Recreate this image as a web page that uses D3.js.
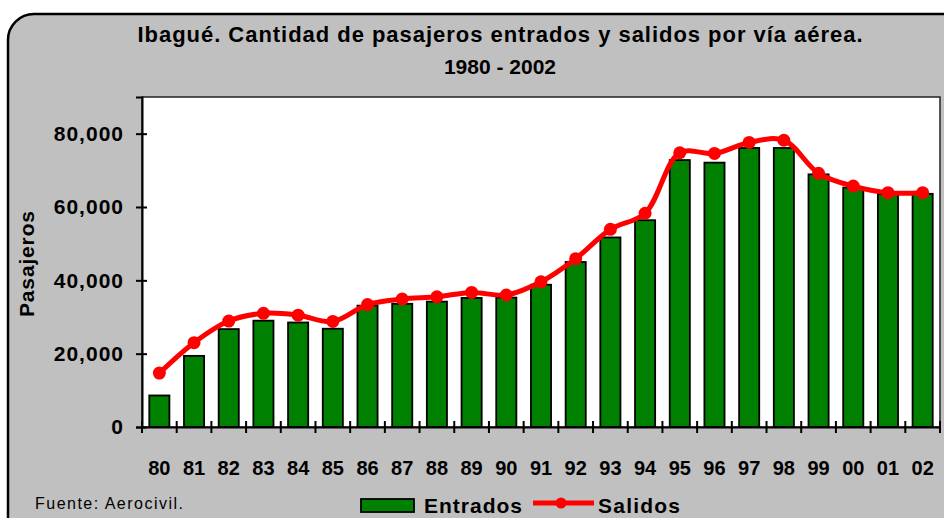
<!DOCTYPE html>
<html>
<head>
<meta charset="utf-8">
<script src="https://cdn.jsdelivr.net/npm/d3@7"></script>
<style>
  body { margin: 0; background: #fff; }
  svg { display: block; font-family: "Liberation Sans", Arial, sans-serif; }
</style>
</head>
<body>
<svg id="chart" width="944" height="518"></svg>
<script>
// data
var years = ["80","81","82","83","84","85","86","87","88","89","90","91","92","93","94","95","96","97","98","99","00","01","02"];
var entrados = [8600,19400,26700,29000,28500,26800,33100,33600,34200,35200,35300,38800,45000,51700,56400,72800,72100,76100,76100,68900,65300,63500,63600];
var salidos = [14700,23000,28900,31000,30500,28800,33400,34900,35500,36700,36000,39600,45900,53900,58300,74800,74600,77600,78200,69200,65700,63900,63900];
var yTicks = [0, 20000, 40000, 60000, 80000];

var svg = d3.select("#chart");

// outer grey frame, runs off the right and bottom edge
svg.append("rect")
  .attr("x", 8).attr("y", 14)
  .attr("width", 980).attr("height", 560)
  .attr("rx", 26).attr("ry", 26)
  .attr("fill", "#c0c0c0")
  .attr("stroke", "#000")
  .attr("stroke-width", 2.5);

// titles
svg.append("text")
  .attr("x", 500).attr("y", 42)
  .attr("text-anchor", "middle")
  .attr("font-size", 22).attr("font-weight", "bold")
  .attr("textLength", 725).attr("lengthAdjust", "spacing")
  .text("Ibagué. Cantidad de pasajeros entrados y salidos por vía aérea.");
svg.append("text")
  .attr("x", 500).attr("y", 74)
  .attr("text-anchor", "middle")
  .attr("font-size", 21).attr("font-weight", "bold")
  .text("1980 - 2002");

var plotLeft = 142, plotRight = 940, plotTop = 97, plotBottom = 427;

var x = d3.scaleBand().domain(years).range([plotLeft, plotRight]);
var xBar = d3.scaleBand().domain(years).range([plotLeft, plotRight])
  .paddingInner(0.42).paddingOuter(0.21);
var y = d3.scaleLinear().domain([0, 90000]).range([plotBottom, plotTop]);

// plot area
svg.append("rect")
  .attr("x", plotLeft).attr("y", plotTop)
  .attr("width", plotRight - plotLeft).attr("height", plotBottom - plotTop)
  .attr("fill", "#fff")
  .attr("stroke", "#222")
  .attr("stroke-width", 1.5);

// bars
svg.append("g").selectAll("rect")
  .data(entrados)
  .enter().append("rect")
  .attr("x", function (d, i) { return xBar(years[i]); })
  .attr("y", function (d) { return y(d); })
  .attr("width", xBar.bandwidth())
  .attr("height", function (d) { return y(0) - y(d); })
  .attr("fill", "#008000")
  .attr("stroke", "#000")
  .attr("stroke-width", 1.8);

// smoothed line for salidos
var line = d3.line()
  .x(function (d, i) { return x(years[i]) + x.bandwidth() / 2; })
  .y(function (d) { return y(d); })
  .curve(d3.curveCatmullRom.alpha(0.5));

svg.append("path")
  .datum(salidos)
  .attr("d", line)
  .attr("fill", "none")
  .attr("stroke", "#ff0000")
  .attr("stroke-width", 5)
  .attr("stroke-linejoin", "round");

svg.append("g").selectAll("circle")
  .data(salidos)
  .enter().append("circle")
  .attr("cx", function (d, i) { return x(years[i]) + x.bandwidth() / 2; })
  .attr("cy", function (d) { return y(d); })
  .attr("r", 6.5)
  .attr("fill", "#ff0000");

// y axis
var yAxis = d3.axisLeft(y)
  .tickValues(yTicks)
  .tickFormat(d3.format(","))
  .tickSize(6)
  .tickPadding(12);
var gy = svg.append("g")
  .attr("transform", "translate(" + plotLeft + ",0)")
  .call(yAxis);
gy.select(".domain").attr("stroke", "#000").attr("stroke-width", 2);
gy.selectAll(".tick line").attr("x2", 5).attr("x1", -6)
  .attr("stroke", "#000").attr("stroke-width", 2);
gy.selectAll(".tick text")
  .attr("font-size", 21).attr("font-weight", "bold")
  .attr("font-family", "Liberation Sans, Arial, sans-serif")
  .attr("letter-spacing", 1)
  .attr("fill", "#000");

// x axis, ticks between categories
var xAxis = d3.axisBottom(x).tickSize(0).tickPadding(34);
var gx = svg.append("g")
  .attr("transform", "translate(0," + plotBottom + ")")
  .call(xAxis);
gx.select(".domain").attr("stroke", "#000").attr("stroke-width", 2);
gx.selectAll(".tick text")
  .attr("font-size", 20).attr("font-weight", "bold")
  .attr("font-family", "Liberation Sans, Arial, sans-serif")
  .attr("fill", "#000");
gx.selectAll(".sep")
  .data(years.concat(["end"]))
  .enter().append("line")
  .attr("class", "sep")
  .attr("x1", function (d, i) { return i < years.length ? x(d) : plotRight; })
  .attr("x2", function (d, i) { return i < years.length ? x(d) : plotRight; })
  .attr("y1", -6).attr("y2", 6)
  .attr("stroke", "#000").attr("stroke-width", 2);

// y axis title
svg.append("text")
  .attr("transform", "translate(34,264) rotate(-90)")
  .attr("text-anchor", "middle")
  .attr("font-size", 21).attr("font-weight", "bold")
  .attr("textLength", 106).attr("lengthAdjust", "spacing")
  .text("Pasajeros");

// source note
svg.append("text")
  .attr("x", 35).attr("y", 509)
  .attr("font-size", 16)
  .attr("textLength", 148).attr("lengthAdjust", "spacing")
  .text("Fuente: Aerocivil.");

// legend
var lg = svg.append("g");
lg.append("rect")
  .attr("x", 361).attr("y", 499)
  .attr("width", 53).attr("height", 13)
  .attr("fill", "#008000").attr("stroke", "#000").attr("stroke-width", 1.8);
lg.append("text")
  .attr("x", 424).attr("y", 513)
  .attr("font-size", 21).attr("font-weight", "bold")
  .attr("textLength", 98).attr("lengthAdjust", "spacing")
  .text("Entrados");
lg.append("line")
  .attr("x1", 533).attr("x2", 594).attr("y1", 503).attr("y2", 503)
  .attr("stroke", "#ff0000").attr("stroke-width", 5);
lg.append("circle")
  .attr("cx", 561).attr("cy", 503).attr("r", 5.5).attr("fill", "#ff0000");
lg.append("text")
  .attr("x", 598).attr("y", 513)
  .attr("font-size", 21).attr("font-weight", "bold")
  .attr("textLength", 82).attr("lengthAdjust", "spacing")
  .text("Salidos");
</script>
</body>
</html>
